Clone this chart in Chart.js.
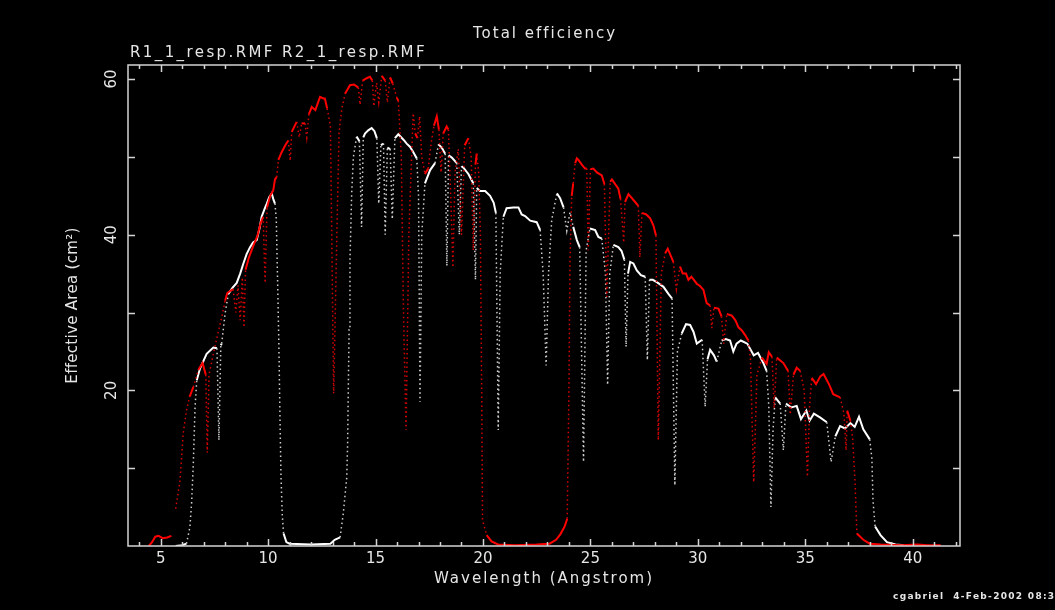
<!DOCTYPE html>
<html>
<head>
<meta charset="utf-8">
<script src="https://cdn.jsdelivr.net/npm/chart.js@4.4.1/dist/chart.umd.min.js"></script>
<style>
html,body{margin:0;padding:0;background:#000;}
#wrap{width:1055px;height:610px;position:relative;}
</style>
</head>
<body>
<div id="wrap"><canvas id="c" width="1055" height="610"></canvas></div>
<script>
// ---------- data (wavelength in Angstrom, effective area in cm^2) ----------
const titleText = "Total efficiency";
const fileLabel = "R1_1_resp.RMF R2_1_resp.RMF";
const xAxisTitle = "Wavelength (Angstrom)";
const yAxisTitle = "Effective Area (cm\u00B2)";
const footerText = "cgabriel  4-Feb-2002 08:3";
const xTickValues = [5, 10, 15, 20, 25, 30, 35, 40];
const yTickValues = [20, 40, 60];

// R1 (white)
const waveR1 = [5.7, 6.0, 6.2, 6.36, 6.44, 6.52, 6.6, 6.68, 6.83, 7.14, 7.45, 7.62, 7.71, 7.8, 7.84, 8.0, 8.15, 8.35, 8.54, 8.7, 8.85, 9.0, 9.16, 9.3, 9.47, 9.6, 9.7, 9.85, 9.94, 10.05, 10.17, 10.25, 10.32, 10.38, 10.45, 10.5, 10.55, 10.6, 10.66, 10.72, 10.85, 11.0, 12.0, 12.9, 13.1, 13.35, 13.5, 13.66, 13.7, 13.73, 13.77, 13.81, 13.89, 13.97, 14.12, 14.25, 14.35, 14.43, 14.51, 14.66, 14.82, 14.95, 15.06, 15.15, 15.25, 15.37, 15.45, 15.55, 15.68, 15.78, 15.9, 16.06, 16.3, 16.45, 16.6, 16.76, 16.92, 17.0, 17.07, 17.15, 17.3, 17.54, 17.77, 17.93, 18.08, 18.24, 18.32, 18.4, 18.55, 18.78, 18.9, 19.0, 19.09, 19.32, 19.55, 19.65, 19.71, 19.86, 20.1, 20.33, 20.5, 20.6, 20.71, 20.8, 20.95, 21.1, 21.41, 21.65, 21.8, 21.96, 22.2, 22.5, 22.66, 22.8, 22.94, 23.05, 23.2, 23.44, 23.59, 23.75, 23.9, 24.05, 24.2, 24.37, 24.5, 24.68, 24.8, 24.98, 25.22, 25.37, 25.53, 25.7, 25.8, 25.9, 26.07, 26.3, 26.45, 26.58, 26.66, 26.75, 26.85, 27.0, 27.16, 27.35, 27.55, 27.65, 27.75, 27.9, 28.09, 28.4, 28.63, 28.8, 28.93, 29.05, 29.25, 29.45, 29.64, 29.8, 29.95, 30.2, 30.34, 30.45, 30.57, 30.75, 30.88, 31.11, 31.3, 31.5, 31.65, 31.8, 32.0, 32.3, 32.6, 32.8, 33.05, 33.2, 33.3, 33.4, 33.5, 33.6, 33.83, 33.98, 34.1, 34.35, 34.6, 34.8, 35.05, 35.2, 35.4, 35.7, 36.0, 36.2, 36.4, 36.62, 36.85, 37.1, 37.3, 37.5, 37.7, 38.0, 38.1, 38.15, 38.25, 38.5, 38.8, 39.2, 39.6];
const areaR1 = [0, 0.1, 0.3, 2.4, 5.5, 10.6, 17.8, 21.3, 22.8, 24.7, 25.5, 25.4, 13.6, 25.8, 26.0, 29.9, 32.4, 33.2, 33.8, 35.0, 36.3, 37.5, 38.4, 39.0, 39.3, 40.8, 42.3, 43.4, 44.0, 44.8, 45.3, 44.5, 44.0, 42.0, 33.0, 26.0, 17.0, 9.0, 4.0, 1.6, 0.5, 0.3, 0.2, 0.3, 0.8, 1.1, 4.2, 8.8, 13.0, 19.6, 27.8, 36.7, 45.3, 50.0, 52.6, 52.0, 41.0, 52.5, 53.0, 53.4, 53.7, 53.3, 52.4, 44.0, 51.5, 51.7, 40.0, 51.2, 51.0, 42.0, 52.4, 52.9, 52.2, 51.7, 51.3, 50.6, 49.8, 45.0, 18.5, 40.0, 46.6, 48.3, 49.2, 51.6, 51.2, 50.4, 36.0, 50.2, 49.9, 49.2, 40.0, 48.8, 48.6, 47.8, 46.6, 34.2, 46.0, 45.6, 45.6, 45.0, 44.1, 42.8, 14.9, 35.0, 42.3, 43.4, 43.5, 43.5, 42.6, 42.4, 41.8, 41.6, 40.6, 35.0, 23.2, 35.0, 41.9, 45.3, 44.7, 43.5, 40.5, 42.9, 41.0, 39.3, 38.4, 10.8, 38.0, 40.8, 40.6, 39.7, 39.5, 35.0, 20.7, 35.0, 38.7, 38.4, 37.9, 36.8, 25.6, 35.0, 36.5, 36.3, 35.4, 34.8, 34.6, 23.9, 34.2, 34.2, 33.9, 33.3, 32.4, 31.8, 7.8, 25.0, 27.3, 28.5, 28.4, 27.5, 26.0, 26.5, 17.9, 24.0, 25.2, 24.5, 23.7, 26.4, 26.6, 26.4, 25.0, 26.0, 26.4, 26.0, 24.5, 24.8, 23.5, 22.5, 18.0, 5.0, 15.0, 19.1, 18.3, 12.3, 18.3, 17.8, 18.0, 16.3, 17.4, 16.1, 17.0, 16.5, 15.9, 10.8, 14.1, 15.4, 15.1, 15.8, 15.3, 16.6, 15.0, 13.7, 11.2, 5.9, 2.5, 1.4, 0.5, 0.2, 0.1];

// R2 (red)
const waveR2 = [4.45, 4.6, 4.75, 4.9, 5.1, 5.3, 5.5, 5.6, 5.7, 5.9, 6.05, 6.2, 6.35, 6.52, 6.75, 6.95, 7.1, 7.17, 7.25, 7.45, 7.68, 7.85, 8.0, 8.1, 8.25, 8.37, 8.5, 8.6, 8.7, 8.8, 8.88, 8.95, 9.1, 9.3, 9.5, 9.65, 9.77, 9.86, 9.95, 10.1, 10.24, 10.32, 10.4, 10.48, 10.63, 10.8, 10.94, 11.03, 11.1, 11.33, 11.45, 11.56, 11.72, 11.8, 11.9, 12.03, 12.2, 12.35, 12.42, 12.57, 12.64, 12.75, 12.9, 13.05, 13.2, 13.3, 13.43, 13.58, 13.81, 14.0, 14.2, 14.28, 14.4, 14.59, 14.74, 14.85, 14.92, 15.05, 15.15, 15.29, 15.45, 15.55, 15.68, 15.8, 15.99, 16.06, 16.2, 16.3, 16.42, 16.55, 16.75, 16.85, 16.95, 17.05, 17.15, 17.3, 17.45, 17.6, 17.72, 17.85, 17.95, 18.05, 18.15, 18.31, 18.39, 18.5, 18.6, 18.7, 18.85, 19.0, 19.15, 19.32, 19.45, 19.55, 19.65, 19.71, 19.8, 19.88, 19.94, 19.98, 20.17, 20.4, 20.7, 21.5, 22.5, 23.1, 23.4, 23.6, 23.8, 23.92, 24.0, 24.05, 24.13, 24.2, 24.29, 24.37, 24.44, 24.6, 24.75, 24.83, 24.9, 25.0, 25.14, 25.3, 25.53, 25.65, 25.76, 25.92, 26.0, 26.3, 26.4, 26.55, 26.61, 26.77, 27.08, 27.23, 27.3, 27.4, 27.6, 27.78, 27.93, 28.05, 28.16, 28.3, 28.48, 28.6, 28.86, 29.0, 29.17, 29.3, 29.45, 29.56, 29.7, 29.95, 30.1, 30.26, 30.41, 30.57, 30.65, 30.75, 30.96, 31.1, 31.2, 31.35, 31.58, 31.75, 31.89, 32.05, 32.2, 32.35, 32.45, 32.6, 32.75, 32.98, 33.2, 33.3, 33.45, 33.55, 33.67, 33.98, 34.2, 34.3, 34.45, 34.6, 34.76, 34.95, 35.1, 35.2, 35.3, 35.5, 35.7, 35.85, 36.1, 36.3, 36.62, 36.8, 36.9, 36.95, 37.1, 37.2, 37.32, 37.4, 37.7, 38.0, 38.5, 39.5, 40.2, 40.7, 41.3];
const areaR2 = [0, 0.5, 1.2, 1.3, 1.0, 1.1, 1.3, null, 4.8, 8.4, 14.5, 17.4, 19.2, 20.4, 22.6, 23.5, 22.0, 12.0, 22.0, 24.7, 27.5, 29.5, 31.5, 32.5, 32.8, 33.0, 30.0, 33.5, 29.0, 34.5, 28.1, 35.5, 37.0, 38.5, 39.8, 41.5, 42.3, 33.8, 43.5, 45.0, 45.7, 47.1, 47.4, 49.6, 50.6, 51.5, 52.1, 49.5, 53.2, 54.5, 52.5, 54.3, 54.3, 52.5, 55.5, 56.4, 56.0, 57.2, 57.7, 57.5, 57.5, 56.2, 54.0, 19.6, 40.0, 53.0, 56.2, 58.1, 59.2, 59.3, 58.9, 56.7, 59.8, 60.1, 60.3, 59.8, 56.5, 59.5, 57.0, 60.4, 59.8, 57.0, 60.2, 59.4, 57.6, 57.2, 50.0, 30.0, 14.9, 40.0, 55.6, 53.0, 52.4, 55.2, 50.0, 47.8, 48.5, 52.0, 54.0, 55.2, 53.5, 48.0, 53.0, 53.9, 53.5, 45.0, 35.8, 48.0, 51.0, 40.0, 51.5, 52.4, 50.0, 38.0, 49.0, 50.4, 48.0, 40.0, 20.0, 3.3, 1.4, 0.6, 0.2, 0.1, 0.2, 0.3, 0.8, 1.5, 2.5, 3.5, 20.0, 36.7, 45.0, 46.6, 49.2, 49.8, 49.6, 49.0, 48.5, 48.5, 38.0, 48.4, 48.5, 48.0, 47.6, 46.5, 32.0, 46.8, 47.1, 45.9, 44.6, 39.0, 44.2, 45.2, 44.2, 43.7, 37.1, 42.8, 42.6, 42.1, 41.2, 39.9, 13.6, 35.0, 37.6, 38.2, 36.5, 33.0, 35.9, 35.0, 35.0, 34.2, 34.6, 33.7, 33.4, 32.9, 31.2, 30.9, 28.0, 30.6, 30.5, 29.5, 26.0, 29.8, 29.6, 29.0, 28.1, 27.7, 27.1, 26.4, 24.0, 8.2, 22.0, 24.2, 23.4, 24.9, 24.3, 17.7, 24.2, 23.5, 22.5, 16.9, 22.0, 22.9, 22.5, 20.0, 8.9, 18.0, 21.6, 20.8, 21.8, 22.1, 20.8, 19.5, 19.1, 17.0, 12.3, 17.4, 16.1, 14.0, 8.0, 1.6, 0.8, 0.3, 0.2, 0.1, 0.2, 0.1, 0.1];

// ---------- chart ----------
const FONT = "'DejaVu Sans', sans-serif";
const pts = (xs, ys) => xs.map((v, i) => ({x: v, y: ys[i]}));
function steep(c) {
  const dx = Math.abs(c.p1.x - c.p0.x), dy = Math.abs(c.p1.y - c.p0.y);
  return dy > 14 && dy > 2.5 * dx;
}
function spacedTitle(spacing) {
  return s => {
    if (s._spacedTitle) return;
    const orig = s.drawTitle;
    s.drawTitle = function () {
      const c = this.ctx;
      const prev = c.letterSpacing;
      c.letterSpacing = spacing;
      orig.call(this);
      c.letterSpacing = prev || '0px';
    };
    s._spacedTitle = true;
  };
}

const framePlugin = {
  id: 'pgframe',
  beforeDraw(chart) {
    const ctx = chart.ctx;
    ctx.save();
    ctx.fillStyle = '#000';
    ctx.fillRect(0, 0, chart.width, chart.height);
    ctx.restore();
  },
  afterDraw(chart) {
    const {ctx, chartArea: {left, right, top, bottom}, scales: {x, y}} = chart;
    ctx.save();
    ctx.strokeStyle = '#d4d4d4';
    ctx.lineWidth = 1.5;
    ctx.strokeRect(left, top, right - left, bottom - top);
    ctx.beginPath();
    for (let v = Math.ceil(x.min); v <= Math.floor(x.max); v++) {
      const px = Math.round(x.getPixelForValue(v)) + 0.5;
      const L = (v % 5 === 0) ? 7 : 4;
      ctx.moveTo(px, bottom); ctx.lineTo(px, bottom - L);
      ctx.moveTo(px, top); ctx.lineTo(px, top + L);
    }
    for (let v = 10; v <= y.max; v += 10) {
      const py = Math.round(y.getPixelForValue(v)) + 0.5;
      ctx.moveTo(left, py); ctx.lineTo(left + 7, py);
      ctx.moveTo(right, py); ctx.lineTo(right - 7, py);
    }
    ctx.stroke();

    // rotated y tick labels
    ctx.fillStyle = '#e6e6e6';
    ctx.font = '15px ' + FONT;
    ctx.textAlign = 'center';
    ctx.textBaseline = 'middle';
    yTickValues.forEach(v => {
      const py = y.getPixelForValue(v);
      ctx.save();
      ctx.translate(112, py);
      ctx.rotate(-Math.PI / 2);
      ctx.fillText(String(v), 0, 0);
      ctx.restore();
    });

    // title and file label
    ctx.textBaseline = 'middle';
    ctx.textAlign = 'center';
    ctx.font = '15px ' + FONT;
    ctx.letterSpacing = '2px';
    ctx.fillText(titleText, (left + right) / 2 + 1, 34);
    ctx.textAlign = 'left';
    ctx.letterSpacing = '2.4px';
    ctx.fillText(fileLabel, 130, 53);

    // footer
    ctx.font = 'bold 9px ' + FONT;
    ctx.letterSpacing = '1.3px';
    ctx.textAlign = 'left';
    ctx.fillText(footerText, 893, 597);
    ctx.letterSpacing = '0px';
    ctx.restore();
  }
};

new Chart(document.getElementById('c'), {
  type: 'line',
  data: {
    datasets: [
      {
        label: 'R2_1_resp.RMF',
        data: pts(waveR2, areaR2),
        borderColor: '#ff0000',
        borderWidth: 2,
        spanGaps: false,
        segment: {
          borderDash: c => steep(c) ? [1.5, 3] : undefined,
          borderColor: c => steep(c) ? '#d80000' : undefined,
          borderWidth: c => steep(c) ? 1.5 : undefined
        }
      },
      {
        label: 'R1_1_resp.RMF',
        data: pts(waveR1, areaR1),
        borderColor: '#ffffff',
        borderWidth: 2,
        spanGaps: false,
        segment: {
          borderDash: c => steep(c) ? [1.5, 3] : undefined,
          borderColor: c => steep(c) ? '#cfcfcf' : undefined,
          borderWidth: c => steep(c) ? 1.5 : undefined
        }
      }
    ]
  },
  options: {
    responsive: false,
    animation: false,
    events: [],
    layout: {padding: {left: 0, right: 95, top: 65, bottom: 0}},
    elements: {point: {radius: 0}, line: {tension: 0, borderJoinStyle: 'miter'}},
    plugins: {legend: {display: false}, tooltip: {enabled: false}, title: {display: false}},
    scales: {
      x: {
        type: 'linear',
        min: 3.48,
        max: 42.2,
        afterBuildTicks: s => { s.ticks = xTickValues.map(v => ({value: v})); },
        afterFit: s => { s.height = 64; spacedTitle('2px')(s); },
        grid: {display: false, drawTicks: false},
        border: {display: false},
        ticks: {color: '#e6e6e6', font: {family: FONT, size: 15}, padding: 4, maxRotation: 0, autoSkip: false},
        title: {display: true, text: xAxisTitle, color: '#e6e6e6', font: {family: FONT, size: 15}, padding: {top: 0, bottom: 22}}
      },
      y: {
        type: 'linear',
        min: 0,
        max: 61.8,
        afterFit: s => { s.width = 128; spacedTitle('0.3px')(s); },
        grid: {display: false, drawTicks: false},
        border: {display: false},
        ticks: {display: false},
        title: {display: true, text: yAxisTitle, color: '#e6e6e6', font: {family: FONT, size: 15}, padding: {top: 64, bottom: 0}}
      }
    }
  },
  plugins: [framePlugin]
});
</script>
</body>
</html>
